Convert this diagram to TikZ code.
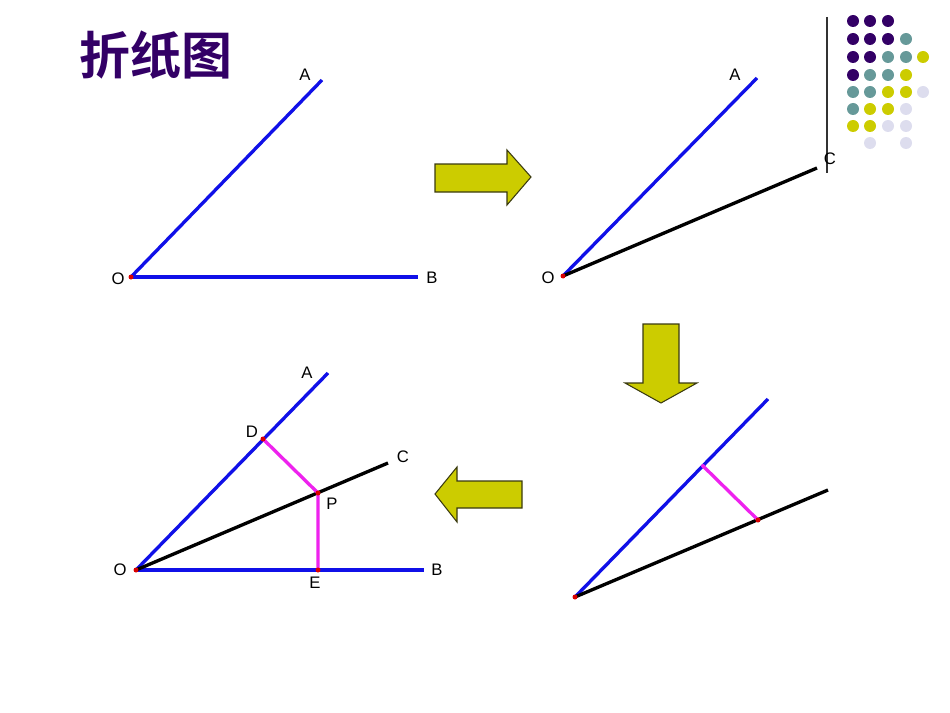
\documentclass[tikz,border=0pt]{standalone}
\usepackage{fontspec}
\setmainfont{Liberation Sans}
\newfontfamily\cjk{Noto Sans CJK SC Bold}
\definecolor{ttl}{HTML}{330066}
\definecolor{dpur}{HTML}{330066}
\definecolor{dteal}{HTML}{669999}
\definecolor{dyel}{HTML}{CCCC00}
\definecolor{dlav}{HTML}{DDDDEE}
\definecolor{lblue}{HTML}{1010E8}
\definecolor{lmag}{HTML}{EE22EE}
\definecolor{arrfill}{HTML}{CCCC00}
\definecolor{arrline}{HTML}{3A3A10}
\tikzset{
  rayblue/.style={draw=lblue,line width=1.9pt},
  rayblack/.style={draw=black,line width=1.9pt},
  perpline/.style={draw=lmag,line width=1.9pt},
  lbl/.style={inner sep=0pt,font=\fontsize{9.5}{11}\selectfont},
  reddot/.style={fill=red!85!black},
  bigarrow/.style={fill=arrfill,draw=arrline,line width=0.6pt}
}
\begin{document}
\begin{tikzpicture}[x={(0.02cm,0)},y={(0,-0.02cm)}]
\useasboundingbox (0,0) rectangle (950,713);
% title
\node[text=ttl,font=\cjk\fontsize{29}{32}\selectfont,inner sep=0pt] (title) at (156,55) {折纸图};
% dot grid
\draw[black!80,line width=0.6pt] (827,17) -- (827,173);
\foreach \x/\y/\c in {853/21/dpur,870/21/dpur,888/21/dpur,
  853/39/dpur,870/39/dpur,888/39/dpur,906/39/dteal,
  853/57/dpur,870/57/dpur,888/57/dteal,906/57/dteal,923/57/dyel,
  853/75/dpur,870/75/dteal,888/75/dteal,906/75/dyel,
  853/92/dteal,870/92/dteal,888/92/dyel,906/92/dyel,923/92/dlav,
  853/109/dteal,870/109/dyel,888/109/dyel,906/109/dlav,
  853/126/dyel,870/126/dyel,888/126/dlav,906/126/dlav,
  870/143/dlav,906/143/dlav}
  {\fill[\c] (\x,\y) circle[radius=6];}
% ---- diagram 1
\coordinate (O1) at (131,277);
\coordinate (A1) at (322,80);
\coordinate (B1) at (418,277);
\draw[rayblue] (O1) -- (A1);
\draw[rayblue] (O1) -- (B1);
\fill[reddot] (O1) circle[radius=2.5];
\node[lbl] (lA1) at (305,75) {A};
\node[lbl] (lB1) at (432,278) {B};
\node[lbl] (lO1) at (118,279) {O};
% ---- diagram 2
\coordinate (O2) at (563,276);
\coordinate (A2) at (757,78);
\coordinate (C2) at (817,168);
\draw[rayblue] (O2) -- (A2);
\draw[rayblack] (O2) -- (C2);
\fill[reddot] (O2) circle[radius=2.5];
\node[lbl] (lA2) at (735,75) {A};
\node[lbl] (lC2) at (830,159) {C};
\node[lbl] (lO2) at (548,278) {O};
% ---- diagram 3
\coordinate (O3) at (136,570);
\coordinate (A3) at (328,373);
\coordinate (B3) at (424,570);
\coordinate (C3) at (388,463);
\coordinate (D3) at (263,439);
\coordinate (P3) at (318,493);
\coordinate (E3) at (318,570);
\draw[rayblue] (O3) -- (A3);
\draw[rayblue] (O3) -- (B3);
\draw[rayblack] (O3) -- (C3);
\draw[perpline] (D3) -- (P3) -- (E3);
\foreach \p in {O3,D3,P3,E3} \fill[reddot] (\p) circle[radius=2.5];
\node[lbl] (lA3) at (307,373) {A};
\node[lbl] (lB3) at (437,570) {B};
\node[lbl] (lC3) at (403,457) {C};
\node[lbl] (lD3) at (252,432) {D};
\node[lbl] (lP3) at (332,504) {P};
\node[lbl] (lE3) at (315,583) {E};
\node[lbl] (lO3) at (120,570) {O};
% ---- diagram 4
\coordinate (O4) at (575,597);
\coordinate (A4) at (768,399);
\coordinate (C4) at (828,490);
\coordinate (D4) at (703,466);
\coordinate (P4) at (758,520);
\draw[rayblue] (O4) -- (A4);
\draw[rayblack] (O4) -- (C4);
\draw[perpline] (D4) -- (P4);
\fill[reddot] (O4) circle[radius=2.5];
\fill[reddot] (P4) circle[radius=2.5];
\fill[lmag] (D4) circle[radius=2];
% ---- arrows
\draw[bigarrow] (435,164) -- (507,164) -- (507,150) -- (531,177) -- (507,205) -- (507,192) -- (435,192) -- cycle;
\draw[bigarrow] (643,324) -- (679,324) -- (679,383) -- (697,383) -- (661,403) -- (625,383) -- (643,383) -- cycle;
\draw[bigarrow] (522,481) -- (457,481) -- (457,467) -- (435,494) -- (457,522) -- (457,508) -- (522,508) -- cycle;
\end{tikzpicture}
\end{document}
